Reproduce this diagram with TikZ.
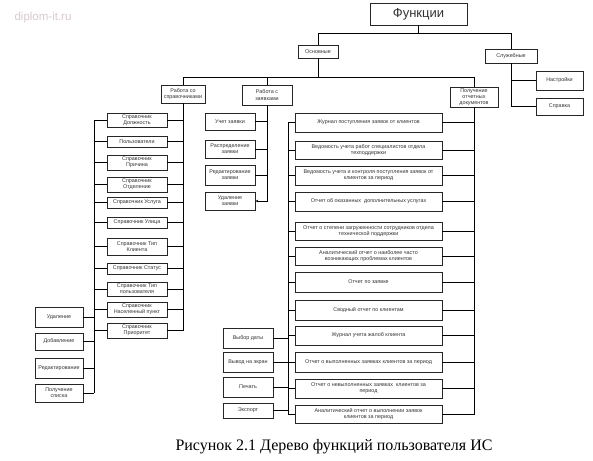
\documentclass[tikz,border=0pt]{standalone}
\usepackage{fontspec}
\usetikzlibrary{arrows.meta}
\setmainfont{Liberation Serif}
\newfontfamily\boxfont{Liberation Sans}
\definecolor{boxtext}{HTML}{333333}
\definecolor{wmgray}{HTML}{D8C8CC}

\begin{document}
\begin{tikzpicture}[x=1pt, y=-1pt]
%styles
\tikzset{box/.style={rectangle, draw=black!85, line width=0.6pt, fill=white, inner sep=0pt, align=center, text=boxtext, font=\boxfont\fontsize{5.4}{6.2}\selectfont}}
\tikzset{link/.style={line width=0.7pt, black}}
\useasboundingbox (0,0) rectangle (593,460);

%watermark
\node[text=wmgray, font=\boxfont\fontsize{11.5}{12}\selectfont, inner sep=0pt] (wm) at (43,18) {diplom-it.ru};

%top levels
\node[box, minimum width=97, minimum height=22, font=\boxfont\fontsize{13}{14}\selectfont] (fun) at (418.5,14) {Функции};
\node[box, minimum width=40, minimum height=13] (osn) at (318,51.5) {Основные};
\node[box, minimum width=52, minimum height=14] (slu) at (511,56) {Служебные};
\node[box, minimum width=47, minimum height=19] (nas) at (559.5,80.5) {Настройки};
\node[box, minimum width=47, minimum height=17] (spr) at (559.5,106.5) {Справка};
\node[box, minimum width=44, minimum height=18] (rs) at (183,94) {Работа со\\справочниками};
\node[box, minimum width=50, minimum height=20] (rz) at (267,95) {Работа с\\заявками};
\node[box, minimum width=48, minimum height=20] (po) at (474,97) {Получение\\отчетных\\документов};

%reference books
\node[box, minimum width=60, minimum height=14] (s1) at (137,120) {Справочник\\Должность};
\node[box, minimum width=60, minimum height=11] (s2) at (137,141.5) {Пользователи};
\node[box, minimum width=60, minimum height=15] (s3) at (137,162.5) {Справочник\\Причина};
\node[box, minimum width=60, minimum height=15] (s4) at (137,184.5) {Справочник\\Отделение};
\node[box, minimum width=60, minimum height=11] (s5) at (137,202.5) {Справочник Услуга};
\node[box, minimum width=60, minimum height=11] (s6) at (137,222.5) {Справочник Улица};
\node[box, minimum width=60, minimum height=17] (s7) at (137,246.5) {Справочник Тип\\Клиента};
\node[box, minimum width=60, minimum height=11] (s8) at (137,268.5) {Справочник Статус};
\node[box, minimum width=60, minimum height=14] (s9) at (137,289) {Справочник Тип\\пользователя};
\node[box, minimum width=60, minimum height=15] (s10) at (137,309.5) {Справочник\\Населенный пункт};
\node[box, minimum width=60, minimum height=15] (s11) at (137,330.5) {Справочник\\Приоритет};

%actions on books
\node[box, minimum width=48, minimum height=20] (a1) at (59,317) {Удаление};
\node[box, minimum width=48, minimum height=17] (a2) at (59,341.5) {Добавление};
\node[box, minimum width=48, minimum height=20] (a3) at (59,368) {Редактирование};
\node[box, minimum width=48, minimum height=18] (a4) at (59,393) {Получение\\списка};

%requests
\node[box, minimum width=50, minimum height=17] (z1) at (230,121.5) {Учет заявки};
\node[box, minimum width=50, minimum height=18] (z2) at (230,149) {Распределение\\заявки};
\node[box, minimum width=50, minimum height=20] (z3) at (230,175) {Редактирование\\заявки};
\node[box, minimum width=50, minimum height=18] (z4) at (230,201) {Удаление\\заявки};

%reports
\node[box, minimum width=147, minimum height=19] (r1) at (368.5,122.5) {Журнал поступления заявок от клиентов};
\node[box, minimum width=147, minimum height=18] (r2) at (368.5,150) {Ведомость учета работ специалистов отдела\\техподдержки};
\node[box, minimum width=147, minimum height=19] (r3) at (368.5,175.5) {Ведомость учета и контроля поступления заявок от\\клиентов за период};
\node[box, minimum width=147, minimum height=19] (r4) at (368.5,201.5) {Отчет об оказанных\ \ дополнительных услугах};
\node[box, minimum width=147, minimum height=18] (r5) at (368.5,231) {Отчет о степени загруженности сотрудников отдела\\технической поддержки};
\node[box, minimum width=147, minimum height=18] (r6) at (368.5,256) {Аналитический отчет о наиболее часто\\возникающих проблемах клиентов};
\node[box, minimum width=147, minimum height=20] (r7) at (368.5,282) {Отчет по заявке};
\node[box, minimum width=147, minimum height=20] (r8) at (368.5,310) {Сводный отчет по клиентам};
\node[box, minimum width=147, minimum height=19] (r9) at (368.5,335.5) {Журнал учета жалоб клиента};
\node[box, minimum width=147, minimum height=20] (r10) at (368.5,362) {Отчет о выполненных заявках клиентов за период};
\node[box, minimum width=147, minimum height=19] (r11) at (368.5,388.5) {Отчет о невыполненных заявках\ \ клиентов за\\период};
\node[box, minimum width=147, minimum height=18] (r12) at (368.5,414) {Аналитический отчет о выполнении заявок\\клиентов за период};

%report options
\node[box, minimum width=50, minimum height=20] (o1) at (248,338) {Выбор даты};
\node[box, minimum width=50, minimum height=20] (o2) at (248,362) {Вывод на экран};
\node[box, minimum width=50, minimum height=20] (o3) at (248,387) {Печать};
\node[box, minimum width=50, minimum height=15] (o4) at (248,410.5) {Экспорт};

%buses
\coordinate (lbus) at (94,0);
\coordinate (rbus) at (288,0);

%tree links
\draw[link] (fun.south) -- ++(0,8) -| (osn.north);
\draw[link] (fun.south) -- ++(0,8) -| (slu.north);
\draw[link] (slu.south) |- (nas.west);
\draw[link] (slu.south) |- (spr.west);
\draw[link] (osn.south) -- ++(0,19) -| (rs.north);
\draw[link] (osn.south) -- ++(0,19) -| (rz.north);
\draw[link] (osn.south) -- ++(0,19) -| (po.north);

%books links
\draw[link] (rs.south) |- (s1.east) (rs.south) |- (s2.east) (rs.south) |- (s3.east)
  (rs.south) |- (s4.east) (rs.south) |- (s5.east) (rs.south) |- (s6.east)
  (rs.south) |- (s7.east) (rs.south) |- (s8.east) (rs.south) |- (s9.east)
  (rs.south) |- (s10.east) (rs.south) |- (s11.east);
\draw[link] (s1.west -| lbus) -- (a4.east -| lbus);
\draw[link] (s1.west) -- (s1.west -| lbus) (s2.west) -- (s2.west -| lbus)
  (s3.west) -- (s3.west -| lbus) (s4.west) -- (s4.west -| lbus)
  (s5.west) -- (s5.west -| lbus) (s6.west) -- (s6.west -| lbus)
  (s7.west) -- (s7.west -| lbus) (s8.west) -- (s8.west -| lbus)
  (s9.west) -- (s9.west -| lbus) (s10.west) -- (s10.west -| lbus)
  (s11.west) -- (s11.west -| lbus);
\draw[link] (a1.east) -- (a1.east -| lbus) (a2.east) -- (a2.east -| lbus)
  (a3.east) -- (a3.east -| lbus) (a4.east) -- (a4.east -| lbus);

%requests links
\draw[link] (rz.south) |- (z1.east) (rz.south) |- (z2.east) (rz.south) |- (z3.east);
\draw[link, -{Stealth[length=3pt, width=2.5pt]}] (rz.south) |- (z4.east);

%reports links
\draw[link] (po.south) |- (r1.east) (po.south) |- (r2.east) (po.south) |- (r3.east)
  (po.south) |- (r4.east) (po.south) |- (r5.east) (po.south) |- (r6.east)
  (po.south) |- (r7.east) (po.south) |- (r8.east) (po.south) |- (r9.east)
  (po.south) |- (r10.east) (po.south) |- (r11.east) (po.south) |- (r12.east);
\draw[link] (r1.west -| rbus) -- (r12.west -| rbus);
\draw[link] (r1.west) -- (r1.west -| rbus) (r2.west) -- (r2.west -| rbus)
  (r3.west) -- (r3.west -| rbus) (r4.west) -- (r4.west -| rbus)
  (r5.west) -- (r5.west -| rbus) (r6.west) -- (r6.west -| rbus)
  (r7.west) -- (r7.west -| rbus) (r8.west) -- (r8.west -| rbus)
  (r9.west) -- (r9.west -| rbus) (r10.west) -- (r10.west -| rbus)
  (r11.west) -- (r11.west -| rbus) (r12.west) -- (r12.west -| rbus);
\draw[link] (o1.east) -- (o1.east -| rbus) (o2.east) -- (o2.east -| rbus)
  (o3.east) -- (o3.east -| rbus) (o4.east) -- (o4.east -| rbus);

%caption
\node[font=\fontsize{16}{18}\selectfont, inner sep=0pt] (cap) at (334,447) {Рисунок 2.1 Дерево функций пользователя ИС};
\end{tikzpicture}
\end{document}
